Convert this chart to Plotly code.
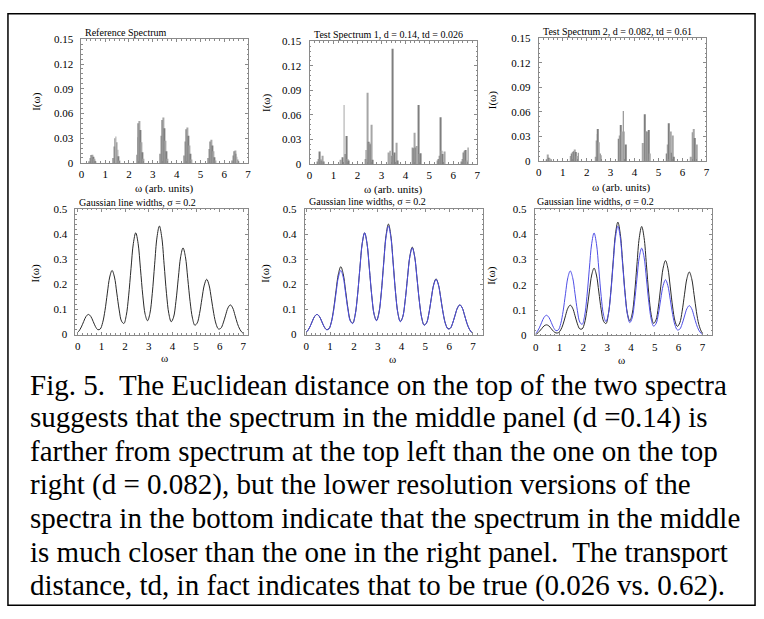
import plotly.graph_objects as go

W, H = 764, 619

# ---------------- data ----------------
# stick spectra (top row)
ref_x = [0.33, 0.37, 0.41, 0.45, 0.49, 0.53, 0.57, 0.61,
         1.33, 1.37, 1.41, 1.45, 1.49, 1.53, 1.57, 1.61,
         2.33, 2.37, 2.41, 2.45, 2.49, 2.53, 2.57, 2.61,
         3.33, 3.37, 3.41, 3.45, 3.49, 3.53, 3.57, 3.61,
         4.33, 4.37, 4.41, 4.45, 4.49, 4.53, 4.57, 4.61,
         5.33, 5.37, 5.41, 5.45, 5.49, 5.53, 5.57, 5.61,
         6.33, 6.37, 6.41, 6.45, 6.49, 6.53, 6.57, 6.61]
ref_y = [0.002, 0.006, 0.0095, 0.010, 0.0075, 0.005, 0.0025, 0.001,
         0.006, 0.020, 0.030, 0.032, 0.025, 0.016, 0.008, 0.003,
         0.010, 0.031, 0.048, 0.051, 0.040, 0.025, 0.013, 0.005,
         0.011, 0.033, 0.052, 0.055, 0.042, 0.027, 0.014, 0.005,
         0.009, 0.026, 0.041, 0.043, 0.033, 0.021, 0.011, 0.004,
         0.006, 0.017, 0.026, 0.028, 0.021, 0.014, 0.007, 0.003,
         0.003, 0.009, 0.014, 0.015, 0.011, 0.0075, 0.004, 0.0015]

t1_x = [0.33, 0.38, 0.42, 0.47, 0.51, 0.55, 0.60,
        1.31, 1.36, 1.44, 1.48, 1.51, 1.55, 1.59, 1.64,
        2.33, 2.36, 2.41, 2.45, 2.49, 2.53, 2.59, 2.63,
        3.31, 3.36, 3.41, 3.46, 3.51, 3.55, 3.63, 3.66,
        4.30, 4.34, 4.40, 4.44, 4.48, 4.55, 4.59, 4.63,
        5.33, 5.37, 5.41, 5.47, 5.51, 5.55, 5.63,
        6.34, 6.38, 6.43, 6.47, 6.52, 6.57, 6.62]
t1_y = [0.003, 0.006, 0.015, 0.006, 0.004, 0.010, 0.003,
        0.005, 0.008, 0.072, 0.012, 0.012, 0.034, 0.006, 0.004,
        0.006, 0.017, 0.087, 0.027, 0.026, 0.024, 0.048, 0.005,
        0.014, 0.016, 0.010, 0.141, 0.011, 0.014, 0.026, 0.004,
        0.020, 0.019, 0.038, 0.020, 0.022, 0.072, 0.012, 0.013,
        0.004, 0.006, 0.010, 0.057, 0.016, 0.012, 0.015,
        0.003, 0.006, 0.014, 0.016, 0.017, 0.004, 0.020]

t2_x = [0.35, 0.39, 0.43, 0.47, 0.52,
        1.32, 1.37, 1.41, 1.45, 1.51, 1.55, 1.59, 1.65,
        2.37, 2.40, 2.44, 2.48, 2.52, 2.57, 2.61,
        3.35, 3.39, 3.44, 3.48, 3.53, 3.57, 3.62,
        4.34, 4.41, 4.45, 4.49, 4.54, 4.59, 4.63,
        5.34, 5.39, 5.44, 5.50, 5.54, 5.58, 5.62,
        6.34, 6.41, 6.47, 6.53, 6.58]
t2_y = [0.002, 0.008, 0.004, 0.003, 0.002,
        0.006, 0.009, 0.011, 0.012, 0.014, 0.011, 0.006, 0.010,
        0.005, 0.025, 0.033, 0.039, 0.023, 0.009, 0.007,
        0.027, 0.031, 0.044, 0.036, 0.061, 0.036, 0.020,
        0.022, 0.057, 0.036, 0.036, 0.036, 0.038, 0.009,
        0.009, 0.020, 0.046, 0.036, 0.010, 0.031, 0.005,
        0.005, 0.035, 0.039, 0.028, 0.020]

# broadened spectra (bottom row)
omega = [0, 0.05, 0.15, 0.25, 0.35, 0.45, 0.55, 0.65, 0.75, 0.85, 0.95,
         1.05, 1.15, 1.25, 1.35, 1.45, 1.55, 1.65, 1.75, 1.85, 1.95,
         2.05, 2.15, 2.25, 2.35, 2.45, 2.55, 2.65, 2.75, 2.85, 2.95,
         3.05, 3.15, 3.25, 3.35, 3.45, 3.55, 3.65, 3.75, 3.85, 3.95,
         4.05, 4.15, 4.25, 4.35, 4.45, 4.55, 4.65, 4.75, 4.85, 4.95,
         5.05, 5.15, 5.25, 5.35, 5.45, 5.55, 5.65, 5.75, 5.85, 5.95,
         6.05, 6.15, 6.25, 6.35, 6.45, 6.55, 6.65, 6.75, 6.85, 6.95, 7.0]
ref_curve = [0.009,
             0.014, 0.030, 0.052, 0.072, 0.080, 0.072, 0.052, 0.031, 0.019, 0.022,
             0.047, 0.096, 0.165, 0.229, 0.255, 0.229, 0.165, 0.098, 0.053, 0.044,
             0.076, 0.154, 0.262, 0.363, 0.405, 0.363, 0.262, 0.154, 0.080, 0.055,
             0.084, 0.164, 0.280, 0.388, 0.432, 0.388, 0.280, 0.164, 0.083, 0.051,
             0.069, 0.132, 0.224, 0.310, 0.345, 0.310, 0.223, 0.131, 0.065, 0.037,
             0.046, 0.084, 0.143, 0.197, 0.220, 0.197, 0.142, 0.083, 0.041, 0.022,
             0.025, 0.046, 0.077, 0.106, 0.118, 0.106, 0.076, 0.044, 0.021, 0.008,
             0.004]
test1_curve = [0.009,
               0.014, 0.030, 0.052, 0.072, 0.080, 0.072, 0.052, 0.031, 0.020, 0.023,
               0.049, 0.102, 0.175, 0.242, 0.270, 0.242, 0.175, 0.104, 0.056, 0.045,
               0.077, 0.154, 0.262, 0.363, 0.405, 0.363, 0.262, 0.155, 0.080, 0.056,
               0.086, 0.167, 0.285, 0.395, 0.440, 0.395, 0.285, 0.167, 0.084, 0.052,
               0.070, 0.133, 0.226, 0.312, 0.348, 0.312, 0.225, 0.132, 0.066, 0.038,
               0.046, 0.085, 0.144, 0.199, 0.222, 0.199, 0.144, 0.084, 0.042, 0.023,
               0.025, 0.046, 0.077, 0.106, 0.118, 0.106, 0.076, 0.044, 0.021, 0.008,
               0.004]
test2_curve = [0.005,
               0.007, 0.016, 0.027, 0.038, 0.042, 0.038, 0.027, 0.016, 0.010, 0.011,
               0.022, 0.045, 0.078, 0.108, 0.120, 0.108, 0.078, 0.046, 0.026, 0.026,
               0.049, 0.101, 0.172, 0.239, 0.266, 0.239, 0.172, 0.102, 0.056, 0.047,
               0.084, 0.170, 0.290, 0.402, 0.448, 0.402, 0.290, 0.171, 0.087, 0.058,
               0.085, 0.164, 0.279, 0.387, 0.431, 0.387, 0.279, 0.164, 0.082, 0.048,
               0.061, 0.113, 0.192, 0.266, 0.296, 0.266, 0.192, 0.113, 0.057, 0.036,
               0.050, 0.096, 0.163, 0.225, 0.251, 0.225, 0.162, 0.094, 0.044, 0.017,
               0.009]

x_ticks = [0, 1, 2, 3, 4, 5, 6, 7]
top_y_ticks = [0, 0.03, 0.06, 0.09, 0.12, 0.15]
top_y_labels = ["0", "0.03", "0.06", "0.09", "0.12", "0.15"]
bot_y_ticks = [0, 0.1, 0.2, 0.3, 0.4, 0.5]
bot_y_labels = ["0", "0.1", "0.2", "0.3", "0.4", "0.5"]

top_titles = ["Reference Spectrum",
              "Test Spectrum 1, d = 0.14, td = 0.026",
              "Test Spectrum 2, d = 0.082, td = 0.61"]
bot_title = "Gaussian line widths, \u03c3 = 0.2"
y_title = "I(\u03c9)"
top_x_title = "\u03c9 (arb. units)"
bot_x_title = "\u03c9"

caption = [
    "Fig. 5.\u00a0 The Euclidean distance on the top of the two spectra",
    "suggests that the spectrum in the middle panel (d =0.14) is",
    "farther from spectrum at the top left than the one on the top",
    "right (d = 0.082), but the lower resolution versions of the",
    "spectra in the bottom indicate that the spectrum in the middle",
    "is much closer than the one in the right panel.\u00a0 The transport",
    "distance, td, in fact indicates that to be true (0.026 vs. 0.62).",
]

# ---------------- layout helpers ----------------
FONT = "Liberation Serif, Times New Roman, serif"


def px(x):
    return x / W


def py(y):
    return 1 - y / H


# panel boxes in pixels: (left, right, top, bottom), x range
panels = [
    (79, 247, 34, 160, [0, 7]),
    (309, 478, 36, 161, [0, 7]),
    (540, 709, 33, 158, [0, 7]),
    (73, 247, 207, 335, [-0.1, 7.2]),
    (304, 484, 207, 335, [-0.07, 7.43]),
    (536, 715, 207, 336, [-0.04, 7.42]),
]

fig = go.Figure()

dark, light = "#7e7e7e", "#a6a6a6"


def bar_colors(n):
    return [dark if i % 2 == 0 else light for i in range(n)]


for i, (bx, by) in enumerate([(ref_x, ref_y), (t1_x, t1_y), (t2_x, t2_y)]):
    ax = "" if i == 0 else str(i + 1)
    fig.add_trace(go.Bar(x=bx, y=by, width=0.036,
                         marker=dict(color=bar_colors(len(bx)), line=dict(width=0)),
                         xaxis="x" + ax, yaxis="y" + ax, showlegend=False))

BLACK = "#2a2a2a"
BLUE = "#4f4fe6"
fig.add_trace(go.Scatter(x=omega, y=ref_curve, mode="lines", line=dict(color=BLACK, width=1, shape="spline"),
                         xaxis="x4", yaxis="y4", showlegend=False))
fig.add_trace(go.Scatter(x=omega, y=test1_curve, mode="lines", line=dict(color=BLACK, width=1, shape="spline"),
                         xaxis="x5", yaxis="y5", showlegend=False))
fig.add_trace(go.Scatter(x=omega, y=ref_curve, mode="lines", line=dict(color=BLUE, width=1, shape="spline"),
                         xaxis="x5", yaxis="y5", showlegend=False))
fig.add_trace(go.Scatter(x=omega, y=test2_curve, mode="lines", line=dict(color=BLACK, width=1, shape="spline"),
                         xaxis="x6", yaxis="y6", showlegend=False))
fig.add_trace(go.Scatter(x=omega, y=ref_curve, mode="lines", line=dict(color=BLUE, width=1, shape="spline"),
                         xaxis="x6", yaxis="y6", showlegend=False))

layout = dict(width=W, height=H, margin=dict(l=0, r=0, t=0, b=0),
              paper_bgcolor="white", plot_bgcolor="white", showlegend=False,
              font=dict(family=FONT, color="black", size=11), barmode="overlay")

tickfont = dict(family=FONT, size=11, color="black")
for i, (l, r, t, b, xr) in enumerate(panels):
    k = "" if i == 0 else str(i + 1)
    top = i < 3
    layout["xaxis" + k] = dict(domain=[px(l), px(r)], range=xr, anchor="y" + k,
                               tickvals=x_ticks, ticktext=[str(v) for v in x_ticks],
                               showline=True, mirror="ticks", linecolor="#8a8a8a", linewidth=1,
                               ticks="inside", ticklen=3, tickcolor="#8a8a8a",
                               ticklabelstandoff=1,
                               minor=dict(ticks="inside", ticklen=1.5, dtick=0.2, tickcolor="#8a8a8a"),
                               showgrid=False, zeroline=False, tickfont=tickfont, fixedrange=True)
    layout["yaxis" + k] = dict(domain=[py(b), py(t)], range=[0, 0.15] if top else [0, 0.5],
                               anchor="x" + k,
                               tickvals=top_y_ticks if top else bot_y_ticks,
                               ticktext=top_y_labels if top else bot_y_labels,
                               showline=True, mirror="ticks", linecolor="#8a8a8a", linewidth=1,
                               ticks="inside", ticklen=3, tickcolor="#8a8a8a",
                               ticklabelstandoff=5,
                               minor=dict(ticks="inside", ticklen=1.5, dtick=0.006 if top else 0.02,
                                          tickcolor="#8a8a8a"),
                               showgrid=False, zeroline=False, tickfont=tickfont, fixedrange=True)

ann = []


def text(x, y, s, size=11, xanchor="center", angle=0):
    ann.append(dict(x=px(x), y=py(y), xref="paper", yref="paper", text=s, showarrow=False,
                    xanchor=xanchor, yanchor="middle", textangle=angle,
                    font=dict(family=FONT, size=size, color="black")))


# panel titles
text(81, 27, top_titles[0], size=10, xanchor="left")
text(311, 29, top_titles[1], size=10, xanchor="left")
text(542, 26, top_titles[2], size=10, xanchor="left")
text(75, 200, bot_title, size=10, xanchor="left")
text(306, 199, bot_title, size=10, xanchor="left")
text(536, 199, bot_title, size=10, xanchor="left")

# axis titles
for (x, y) in [(33, 97), (265, 98), (493, 96), (33, 272), (265, 272), (493, 275)]:
    text(x, y, y_title, angle=-90)
for (x, y) in [(163, 186), (394, 187), (623, 185)]:
    text(x, y, top_x_title)
for (x, y) in [(163, 359), (393, 360), (623, 361)]:
    text(x, y, bot_x_title)

# caption
for j, line in enumerate(caption):
    text(25, 386 + j * 34.1, line, size=29, xanchor="left")

layout["annotations"] = ann
layout["shapes"] = [dict(type="rect", xref="paper", yref="paper",
                         x0=px(5), x1=px(758), y0=py(8), y1=py(611),
                         line=dict(color="black", width=1.5))]

fig.update_layout(**layout)
fig.write_html("out.html")
